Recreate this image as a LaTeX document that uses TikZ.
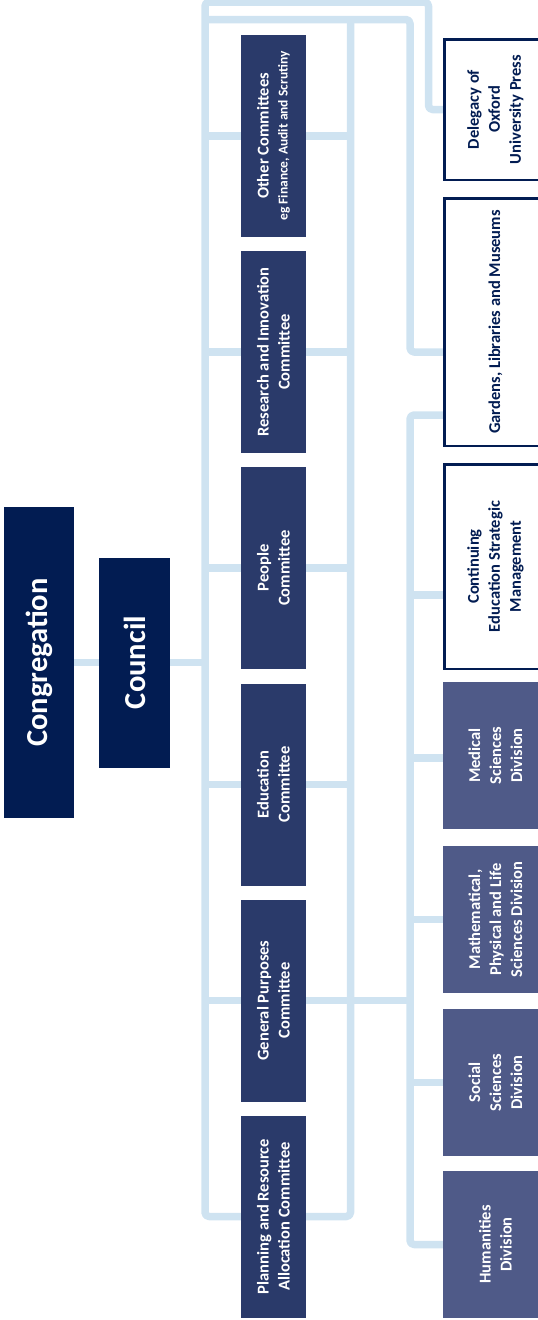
\documentclass[tikz,border=0pt]{standalone}
\usepackage{fontspec}
\setmainfont{Carlito}
\pgfdeclarelayer{background}
\pgfsetlayers{background,main}
\definecolor{navy}{HTML}{021C52}
\definecolor{commc}{HTML}{2A3A6A}
\definecolor{divc}{HTML}{4F5A88}
\definecolor{lineb}{HTML}{CFE3F1}
\tikzset{
  topbox/.style={fill=navy, text=white, rotate=90, inner sep=0pt, align=center,
    font=\bfseries\fontsize{30.5}{36}\selectfont},
  commbox/.style={fill=commc, text=white, rotate=90, inner sep=0pt, align=center,
    minimum width=202pt, minimum height=65pt, font=\bfseries\fontsize{16.5}{21}\selectfont},
  divbox/.style={fill=divc, text=white, rotate=90, inner sep=0pt, align=center,
    minimum height=105pt, font=\bfseries\fontsize{16.5}{21}\selectfont},
  outbox/.style={draw=navy, line width=2.5pt, fill=white, text=navy, rotate=90, inner sep=0pt, align=center,
    minimum height=102.5pt, font=\bfseries\fontsize{16.5}{21}\selectfont},
  conn/.style={draw=lineb, line width=7.5pt, rounded corners=4pt, line join=round}
}
\begin{document}
\begin{tikzpicture}[x=1pt,y=-1pt]
\useasboundingbox (0,0) rectangle (538,1320);
\clip (0,0) rectangle (538,1320);

% top level
\node[topbox, minimum width=311pt, minimum height=70pt] (cong) at (39,662.5) {Congregation};
\node[topbox, minimum width=210pt, minimum height=71pt] (council) at (134.5,662.5) {Council};

% committees
\node[commbox] (c1) at (273.5,136) {Other Committees\\[-2pt]{\fontsize{13.5}{15}\selectfont eg Finance, Audit and Scrutiny}};
\node[commbox] (c2) at (273.5,352) {Research and Innovation\\Committee};
\node[commbox] (c3) at (273.5,568) {People\\Committee};
\node[commbox] (c4) at (273.5,784.5) {Education\\Committee};
\node[commbox] (c5) at (273.5,1000.5) {General Purposes\\Committee};
\node[commbox] (c6) at (273.5,1216.5) {Planning and Resource\\Allocation Committee};

% right column
\node[outbox, minimum width=140.5pt] (deleg) at (495.5,109.5) {Delegacy of\\Oxford\\University Press};
\node[outbox, minimum width=247.5pt] (gardens) at (495.5,322) {Gardens, Libraries and Museums};
\node[outbox, minimum width=204.5pt] (contin) at (495.5,566.5) {Continuing\\Education Strategic\\Management};
\node[divbox, minimum width=147pt] (medical) at (495.5,755.5) {Medical\\Sciences\\Division};
\node[divbox, minimum width=147pt] (math) at (495.5,919.5) {Mathematical,\\Physical and Life\\Sciences Division};
\node[divbox, minimum width=147pt] (social) at (495.5,1082.5) {Social\\Sciences\\Division};
\node[divbox, minimum width=147pt] (human) at (495.5,1244.5) {Humanities\\Division};

% bus coordinates
\coordinate (lb) at (205,2);
\coordinate (tbx) at (428.5,2);
\coordinate (lb2) at (205,19.5);
\coordinate (gx) at (410,19.5);
\coordinate (g1) at (410,352);
\coordinate (rb) at (350.5,19.5);
\coordinate (lbB) at (205,1216.5);
\coordinate (rbB) at (350.5,1216.5);
\coordinate (lowT) at (410,415);
\coordinate (mline) at (410,758);
\coordinate (cline) at (410,595);

\begin{pgfonlayer}{background}
  \draw[conn] (cong) -- (council -| lb);
  \draw[conn] (deleg) -| (tbx) -- (lb) -- (lbB) -- (rbB) -- (rb);
  \draw[conn] (lb2) -- (gx) -- (g1) -- (g1 -| gardens);
  \foreach \c in {c1,c2,c3,c4,c5}{
    \draw[conn] (\c -| lb) -- (\c -| rb);
  }
  \draw[conn] (c5 -| rb) -- (c5 -| gx);
  \draw[conn] (human) -| (lowT) -- (lowT -| gardens);
  \draw[conn] (cline) -- (cline -| contin);
  \draw[conn] (mline) -- (mline -| medical);
  \draw[conn] (math -| gx) -- (math);
  \draw[conn] (social -| gx) -- (social);
\end{pgfonlayer}
\end{tikzpicture}
\end{document}
